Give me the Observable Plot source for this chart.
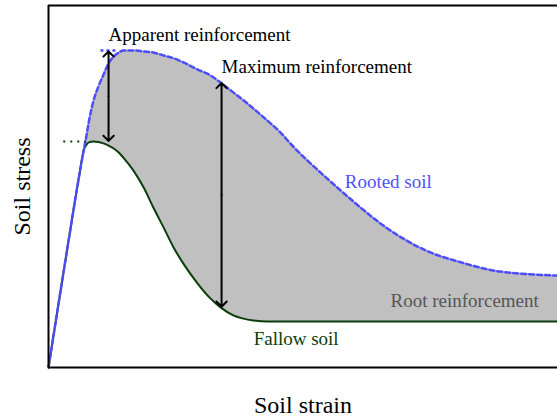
<!DOCTYPE html>
<html>
<head>
<meta charset="utf-8">
<script src="https://cdn.jsdelivr.net/npm/d3@7"></script>
<script src="https://cdn.jsdelivr.net/npm/@observablehq/plot@0.6"></script>
<style>
  html, body { margin: 0; padding: 0; background: #fff; }
  #chart svg { display: block; }
</style>
</head>
<body>
<div id="chart"></div>
<script>
// Strain (0–100) and stress (0–100)
const strain = [0, 3.7, 6.3, 6.9, 7.5, 7.9, 8.8, 9.8, 10.8, 11.8, 12.8, 13.8, 14.7, 16.7, 18.7, 20.6, 22.6, 24.6, 26.5, 29.3, 31.8, 33.8, 36.3, 38.3, 40.3, 43.0, 45.6, 47.5, 53.4, 57.4, 61.3, 65.2, 69.7, 75.0, 80.4, 87.4, 95.3, 100];
const rootedSoil = [0, 32.9, 55.2, 59.9, 64.4, 67.7, 73.5, 77.6, 80.9, 84.0, 85.9, 87.0, 87.6, 87.6, 87.3, 87.0, 86.2, 85.4, 84.3, 82.3, 80.7, 78.7, 76.0, 73.8, 71.5, 68.2, 64.9, 61.9, 53.9, 48.9, 44.2, 39.8, 35.6, 31.8, 29.3, 26.8, 25.7, 25.4];
const fallowSoil = [0, 32.9, 55.2, 59.9, 61.6, 62.2, 62.4, 62.3, 61.9, 61.3, 60.5, 59.4, 58.0, 54.4, 49.7, 44.2, 38.7, 33.1, 28.7, 23.2, 19.1, 16.6, 14.4, 13.5, 13.0, 12.7, 12.7, 12.7, 12.7, 12.7, 12.7, 12.7, 12.7, 12.7, 12.7, 12.7, 12.7, 12.7];

// Double-headed arrows: strain, lower end, upper end
const arrowStrain = [11.8, 34.0];
const arrowLow = [62.6, 16.8];
const arrowHigh = [87.3, 78.6];

// Dotted peak guides
const fallowPeak = {from: 2.9, to: 7.3, stress: 62.4};
const rootedPeak = {from: 10.2, to: 13.6, stress: 87.6};

const labelText = ["Apparent reinforcement", "Maximum reinforcement", "Rooted soil", "Root reinforcement", "Fallow soil"];
const labelStrain = [11.8, 34.0, 58.2, 67.2, 40.3];
const labelStress = [92.0, 82.9, 51.4, 18.5, 8.0];
const labelColor = ["#000000", "#000000", "#5050ff", "#555555", "#0b3d0b"];

const table = strain.map((s, i) => ({strain: s, rooted: rootedSoil[i], fallow: fallowSoil[i]}));
const arrows = arrowStrain.map((s, i) => ({strain: s, low: arrowLow[i], high: arrowHigh[i], mid: (arrowLow[i] + arrowHigh[i]) / 2}));
const labels = labelText.map((t, i) => ({text: t, strain: labelStrain[i], stress: labelStress[i], color: labelColor[i]}));

const serif = "'Liberation Serif', 'Times New Roman', 'DejaVu Serif', serif";

const chart = Plot.plot({
  width: 557,
  height: 418,
  marginLeft: 48,
  marginRight: 0,
  marginTop: 5,
  marginBottom: 51,
  x: {domain: [0, 100], axis: null},
  y: {domain: [0, 100], axis: null},
  style: {fontFamily: serif, background: "#fff"},
  marks: [
    Plot.areaY(table, {x: "strain", y1: "fallow", y2: "rooted", fill: "#c0c0c0", curve: "monotone-x"}),
    Plot.line(table, {x: "strain", y: "fallow", stroke: "#0b3d0b", strokeWidth: 2, curve: "monotone-x"}),
    Plot.line(table, {x: "strain", y: "rooted", stroke: "#4d4dff", strokeWidth: 2.5, strokeDasharray: "5,3", curve: "monotone-x"}),
    Plot.link([fallowPeak], {x1: "from", x2: "to", y1: "stress", y2: "stress", stroke: "#0b3d0b", strokeWidth: 2, strokeDasharray: "2,5"}),
    Plot.link([rootedPeak], {x1: "from", x2: "to", y1: "stress", y2: "stress", stroke: "#4d4dff", strokeWidth: 2.5, strokeDasharray: "3,3"}),
    Plot.arrow(arrows, {x1: "strain", x2: "strain", y1: "mid", y2: "high", stroke: "#000", strokeWidth: 2, headAngle: 90, headLength: 5.5}),
    Plot.arrow(arrows, {x1: "strain", x2: "strain", y1: "mid", y2: "low", stroke: "#000", strokeWidth: 2, headAngle: 90, headLength: 5.5}),
    Plot.text(labels, {x: "strain", y: "stress", text: "text", fill: "color", textAnchor: "start", fontSize: 19}),
    Plot.text(["Soil strain"], {x: 50, y: -10.5, text: d => d, fill: "#000", fontSize: 24}),
    Plot.text(["Soil stress"], {x: -5.1, y: 50, text: d => d, fill: "#000", fontSize: 24, rotate: -90}),
    Plot.ruleX([0], {stroke: "#000", strokeWidth: 2}),
    Plot.ruleY([0, 100], {stroke: "#000", strokeWidth: 2})
  ]
});

document.getElementById("chart").appendChild(chart);
</script>
</body>
</html>
